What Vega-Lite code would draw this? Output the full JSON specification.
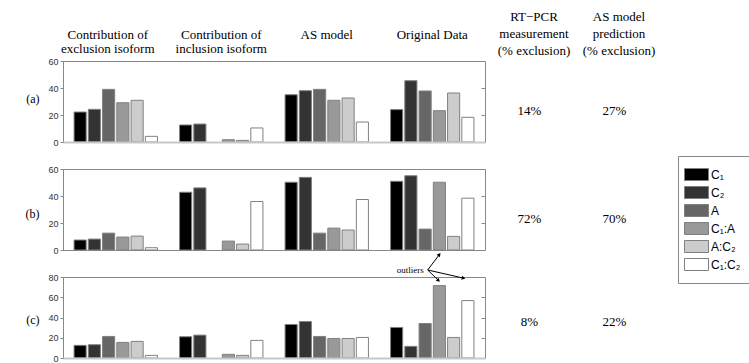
{
  "$schema": "https://vega.github.io/schema/vega-lite/v6.json",
  "padding": {"left": 24, "top": 10, "right": 0, "bottom": 0},
  "background": "white",
  "config": {
    "view": {"stroke": null},
    "axis": {"labelFont": "Liberation Sans", "labelFontSize": 9, "labelColor": "#333", "tickColor": "#888", "domainColor": "#888", "grid": false}
  },
  "datasets": {
    "bars": [
      {"row": "a", "group": "Contribution of|exclusion isoform", "series": "C₁", "value": 22.2},
      {"row": "a", "group": "Contribution of|exclusion isoform", "series": "C₂", "value": 24.2},
      {"row": "a", "group": "Contribution of|exclusion isoform", "series": "A", "value": 39},
      {"row": "a", "group": "Contribution of|exclusion isoform", "series": "C₁:A", "value": 29.1},
      {"row": "a", "group": "Contribution of|exclusion isoform", "series": "A:C₂", "value": 30.9},
      {"row": "a", "group": "Contribution of|exclusion isoform", "series": "C₁:C₂", "value": 4.2},
      {"row": "a", "group": "Contribution of|inclusion isoform", "series": "C₁", "value": 12.6},
      {"row": "a", "group": "Contribution of|inclusion isoform", "series": "C₂", "value": 13.3},
      {"row": "a", "group": "Contribution of|inclusion isoform", "series": "C₁:A", "value": 1.7},
      {"row": "a", "group": "Contribution of|inclusion isoform", "series": "A:C₂", "value": 1.2},
      {"row": "a", "group": "Contribution of|inclusion isoform", "series": "C₁:C₂", "value": 10.4},
      {"row": "a", "group": "AS model", "series": "C₁", "value": 35},
      {"row": "a", "group": "AS model", "series": "C₂", "value": 38},
      {"row": "a", "group": "AS model", "series": "A", "value": 39},
      {"row": "a", "group": "AS model", "series": "C₁:A", "value": 30.9},
      {"row": "a", "group": "AS model", "series": "A:C₂", "value": 32.6},
      {"row": "a", "group": "AS model", "series": "C₁:C₂", "value": 14.8},
      {"row": "a", "group": "Original Data", "series": "C₁", "value": 24},
      {"row": "a", "group": "Original Data", "series": "C₂", "value": 45.4},
      {"row": "a", "group": "Original Data", "series": "A", "value": 37.8},
      {"row": "a", "group": "Original Data", "series": "C₁:A", "value": 23.2},
      {"row": "a", "group": "Original Data", "series": "A:C₂", "value": 36.3},
      {"row": "a", "group": "Original Data", "series": "C₁:C₂", "value": 18.3},
      {"row": "b", "group": "Contribution of|exclusion isoform", "series": "C₁", "value": 7.4},
      {"row": "b", "group": "Contribution of|exclusion isoform", "series": "C₂", "value": 8.1},
      {"row": "b", "group": "Contribution of|exclusion isoform", "series": "A", "value": 12.5},
      {"row": "b", "group": "Contribution of|exclusion isoform", "series": "C₁:A", "value": 9.6},
      {"row": "b", "group": "Contribution of|exclusion isoform", "series": "A:C₂", "value": 10.3},
      {"row": "b", "group": "Contribution of|exclusion isoform", "series": "C₁:C₂", "value": 1.7},
      {"row": "b", "group": "Contribution of|inclusion isoform", "series": "C₁", "value": 42.8},
      {"row": "b", "group": "Contribution of|inclusion isoform", "series": "C₂", "value": 46},
      {"row": "b", "group": "Contribution of|inclusion isoform", "series": "C₁:A", "value": 6.6},
      {"row": "b", "group": "Contribution of|inclusion isoform", "series": "A:C₂", "value": 4.4},
      {"row": "b", "group": "Contribution of|inclusion isoform", "series": "C₁:C₂", "value": 35.9},
      {"row": "b", "group": "AS model", "series": "C₁", "value": 50.2},
      {"row": "b", "group": "AS model", "series": "C₂", "value": 53.8},
      {"row": "b", "group": "AS model", "series": "A", "value": 12.5},
      {"row": "b", "group": "AS model", "series": "C₁:A", "value": 16.2},
      {"row": "b", "group": "AS model", "series": "A:C₂", "value": 14.8},
      {"row": "b", "group": "AS model", "series": "C₁:C₂", "value": 37.4},
      {"row": "b", "group": "Original Data", "series": "C₁", "value": 50.9},
      {"row": "b", "group": "Original Data", "series": "C₂", "value": 55},
      {"row": "b", "group": "Original Data", "series": "A", "value": 15.5},
      {"row": "b", "group": "Original Data", "series": "C₁:A", "value": 50.2},
      {"row": "b", "group": "Original Data", "series": "A:C₂", "value": 10.1},
      {"row": "b", "group": "Original Data", "series": "C₁:C₂", "value": 38.4},
      {"row": "c", "group": "Contribution of|exclusion isoform", "series": "C₁", "value": 12.5},
      {"row": "c", "group": "Contribution of|exclusion isoform", "series": "C₂", "value": 13.1},
      {"row": "c", "group": "Contribution of|exclusion isoform", "series": "A", "value": 21.3},
      {"row": "c", "group": "Contribution of|exclusion isoform", "series": "C₁:A", "value": 15.4},
      {"row": "c", "group": "Contribution of|exclusion isoform", "series": "A:C₂", "value": 16.4},
      {"row": "c", "group": "Contribution of|exclusion isoform", "series": "C₁:C₂", "value": 2.6},
      {"row": "c", "group": "Contribution of|inclusion isoform", "series": "C₁", "value": 21},
      {"row": "c", "group": "Contribution of|inclusion isoform", "series": "C₂", "value": 22.6},
      {"row": "c", "group": "Contribution of|inclusion isoform", "series": "C₁:A", "value": 3.6},
      {"row": "c", "group": "Contribution of|inclusion isoform", "series": "A:C₂", "value": 2.6},
      {"row": "c", "group": "Contribution of|inclusion isoform", "series": "C₁:C₂", "value": 17.4},
      {"row": "c", "group": "AS model", "series": "C₁", "value": 33.1},
      {"row": "c", "group": "AS model", "series": "C₂", "value": 36},
      {"row": "c", "group": "AS model", "series": "A", "value": 21.3},
      {"row": "c", "group": "AS model", "series": "C₁:A", "value": 19.3},
      {"row": "c", "group": "AS model", "series": "A:C₂", "value": 19.3},
      {"row": "c", "group": "AS model", "series": "C₁:C₂", "value": 20.3},
      {"row": "c", "group": "Original Data", "series": "C₁", "value": 30.2},
      {"row": "c", "group": "Original Data", "series": "C₂", "value": 11.5},
      {"row": "c", "group": "Original Data", "series": "A", "value": 34.1},
      {"row": "c", "group": "Original Data", "series": "C₁:A", "value": 71.5},
      {"row": "c", "group": "Original Data", "series": "A:C₂", "value": 20.3},
      {"row": "c", "group": "Original Data", "series": "C₁:C₂", "value": 56.7}
    ],
    "pct": [
      {"row": "a", "measure": "RT−PCR|measurement|(% exclusion)", "pct": 0.14},
      {"row": "a", "measure": "AS model|prediction|(% exclusion)", "pct": 0.27},
      {"row": "b", "measure": "RT−PCR|measurement|(% exclusion)", "pct": 0.72},
      {"row": "b", "measure": "AS model|prediction|(% exclusion)", "pct": 0.70},
      {"row": "c", "measure": "RT−PCR|measurement|(% exclusion)", "pct": 0.08},
      {"row": "c", "measure": "AS model|prediction|(% exclusion)", "pct": 0.22}
    ],
    "arrows": [
      {"id": "a1", "x1": 3.457, "y1": 86.9, "x2": 3.564, "y2": 101.7},
      {"id": "a2", "x1": 3.457, "y1": 86.9, "x2": 3.555, "y2": 77},
      {"id": "a3", "x1": 3.457, "y1": 86.9, "x2": 3.791, "y2": 79}
    ],
    "note": [{"x": 3.42, "y": 86.9, "label": "outliers"}]
  },
  "columns": 2,
  "spacing": {"row": 27, "column": 6},
  "bounds": "flush",
  "concat": [
    {
      "view": {"stroke": "#888"},
      "width": 422, "height": 81,
      "data": {"name": "bars"},
      "transform": [{"filter": "datum.row === 'a'"}],
      "layer": [
        {
          "mark": {"type": "bar", "stroke": "#808080", "strokeWidth": 1},
          "encoding": {
            "x": {"field": "group", "type": "nominal", "sort": null,
              "scale": {"domain": ["Contribution of|exclusion isoform", "Contribution of|inclusion isoform", "AS model", "Original Data"], "paddingInner": 0.21, "paddingOuter": 0.105},
              "axis": {"orient": "bottom", "labels": false, "ticks": false, "title": null, "domainColor": "#c8c8c8", "domainWidth": 2, "zindex": 1}},
            "xOffset": {"field": "series", "type": "nominal", "sort": null, "scale": {"domain": ["C₁", "C₂", "A", "C₁:A", "A:C₂", "C₁:C₂"], "paddingInner": 0.15, "paddingOuter": 0}},
            "y": {"field": "value", "type": "quantitative", "scale": {"domain": [0, 60], "nice": false},
              "axis": {"orient": "left", "values": [0, 20, 40, 60], "tickSize": 3, "labelPadding": 2, "title": "(a)", "titleAngle": 0, "titleAlign": "right", "titleBaseline": "middle", "titlePadding": 9, "titleFont": "Liberation Serif", "titleFontSize": 12, "titleFontWeight": "normal", "titleColor": "black", "titleY": 37}},
            "fill": {"field": "series", "type": "nominal", "sort": null,
              "scale": {"domain": ["C₁", "C₂", "A", "C₁:A", "A:C₂", "C₁:C₂"], "range": ["#000000", "#333333", "#666666", "#999999", "#cccccc", "#ffffff"]},
              "legend": {"orient": "none", "legendX": 615, "legendY": 95, "title": null, "symbolType": "M-1.5,-0.75H1.5V0.75H-1.5Z", "symbolSize": 256, "symbolStrokeColor": "#777", "symbolStrokeWidth": 1, "symbolOpacity": 1, "labelFont": "Liberation Sans", "labelFontSize": 12, "labelColor": "black", "labelOffset": 6, "rowPadding": 1, "padding": 10, "strokeColor": "#888", "fillColor": "white"}}
          }
        },
        {
          "mark": {"type": "bar", "opacity": 0},
          "encoding": {
            "x": {"field": "group", "type": "nominal", "sort": null,
              "axis": {"orient": "top", "labelExpr": "split(datum.label, '|')", "domain": false, "ticks": false, "tickSize": 0, "labelFont": "Liberation Serif", "labelFontSize": 13, "labelColor": "black", "labelBaseline": "middle", "labelPadding": 27, "labelLineHeight": 14, "labelAngle": 0, "labelOverlap": false, "labelLimit": 300, "title": null,
                "labelOffset": {"condition": {"test": "indexof(datum.value, 'exclusion') >= 0", "value": -8}, "value": 0}}},
            "xOffset": {"field": "series", "type": "nominal", "sort": null},
            "y": {"field": "value", "type": "quantitative", "axis": {"orient": "right", "labels": false, "domain": false, "tickSize": -4, "values": [20, 40], "title": null}}
          }
        }
      ]
    },
    {
      "width": 170, "height": 81,
      "data": {"name": "pct"},
      "transform": [{"filter": "datum.row === 'a'"}],
      "mark": {"type": "text", "font": "Liberation Serif", "fontSize": 13, "dy": 9, "dx": -4, "color": "black"},
      "encoding": {
        "x": {"field": "measure", "type": "nominal", "sort": null,
          "scale": {"domain": ["RT−PCR|measurement|(% exclusion)", "AS model|prediction|(% exclusion)"], "padding": 0.5},
          "axis": {"orient": "top", "labelExpr": "split(datum.label, '|')", "domain": false, "ticks": false, "tickSize": 0, "labelFont": "Liberation Serif", "labelFontSize": 13, "labelColor": "black", "labelBaseline": "middle", "labelPadding": 45, "labelLineHeight": 17, "labelAngle": 0, "labelOverlap": false, "labelLimit": 300, "title": null}},
        "text": {"field": "pct", "type": "quantitative", "format": ".0%"}
      }
    },
    {
      "view": {"stroke": "#888"},
      "width": 422, "height": 81,
      "data": {"name": "bars"},
      "transform": [{"filter": "datum.row === 'b'"}],
      "layer": [
        {
          "mark": {"type": "bar", "stroke": "#808080", "strokeWidth": 1},
          "encoding": {
            "x": {"field": "group", "type": "nominal", "sort": null,
              "scale": {"domain": ["Contribution of|exclusion isoform", "Contribution of|inclusion isoform", "AS model", "Original Data"], "paddingInner": 0.21, "paddingOuter": 0.105},
              "axis": {"orient": "bottom", "labels": false, "ticks": false, "title": null, "domainColor": "#c8c8c8", "domainWidth": 2, "zindex": 1}},
            "xOffset": {"field": "series", "type": "nominal", "sort": null, "scale": {"domain": ["C₁", "C₂", "A", "C₁:A", "A:C₂", "C₁:C₂"], "paddingInner": 0.15, "paddingOuter": 0}},
            "y": {"field": "value", "type": "quantitative", "scale": {"domain": [0, 60], "nice": false},
              "axis": {"orient": "left", "values": [0, 20, 40, 60], "tickSize": 3, "labelPadding": 2, "title": "(b)", "titleAngle": 0, "titleAlign": "right", "titleBaseline": "middle", "titlePadding": 9, "titleFont": "Liberation Serif", "titleFontSize": 12, "titleFontWeight": "normal", "titleColor": "black", "titleY": 44}},
            "fill": {"field": "series", "type": "nominal", "sort": null}
          }
        },
        {
          "mark": {"type": "bar", "opacity": 0},
          "encoding": {
            "x": {"field": "group", "type": "nominal", "sort": null, "axis": null},
            "xOffset": {"field": "series", "type": "nominal", "sort": null},
            "y": {"field": "value", "type": "quantitative", "axis": {"orient": "right", "labels": false, "domain": false, "tickSize": -4, "values": [20, 40], "title": null}}
          }
        }
      ]
    },
    {
      "width": 170, "height": 81,
      "data": {"name": "pct"},
      "transform": [{"filter": "datum.row === 'b'"}],
      "mark": {"type": "text", "font": "Liberation Serif", "fontSize": 13, "dy": 9, "dx": -4, "color": "black"},
      "encoding": {
        "x": {"field": "measure", "type": "nominal", "sort": null,
          "scale": {"domain": ["RT−PCR|measurement|(% exclusion)", "AS model|prediction|(% exclusion)"], "padding": 0.5},
          "axis": null},
        "text": {"field": "pct", "type": "quantitative", "format": ".0%"}
      }
    },
    {
      "view": {"stroke": "#888"},
      "width": 422, "height": 81,
      "resolve": {"scale": {"x": "independent"}},
      "layer": [
        {
          "data": {"name": "bars"},
          "transform": [{"filter": "datum.row === 'c'"}],
          "mark": {"type": "bar", "stroke": "#808080", "strokeWidth": 1},
          "encoding": {
            "x": {"field": "group", "type": "nominal", "sort": null,
              "scale": {"domain": ["Contribution of|exclusion isoform", "Contribution of|inclusion isoform", "AS model", "Original Data"], "paddingInner": 0.21, "paddingOuter": 0.105},
              "axis": {"orient": "bottom", "labels": false, "ticks": false, "title": null, "domainColor": "#c8c8c8", "domainWidth": 2, "zindex": 1}},
            "xOffset": {"field": "series", "type": "nominal", "sort": null, "scale": {"domain": ["C₁", "C₂", "A", "C₁:A", "A:C₂", "C₁:C₂"], "paddingInner": 0.15, "paddingOuter": 0}},
            "y": {"field": "value", "type": "quantitative", "scale": {"domain": [0, 80], "nice": false},
              "axis": {"orient": "left", "values": [0, 20, 40, 60, 80], "tickSize": 3, "labelPadding": 2, "title": "(c)", "titleAngle": 0, "titleAlign": "right", "titleBaseline": "middle", "titlePadding": 9, "titleFont": "Liberation Serif", "titleFontSize": 12, "titleFontWeight": "normal", "titleColor": "black", "titleY": 42}},
            "fill": {"field": "series", "type": "nominal", "sort": null}
          }
        },
        {
          "data": {"name": "bars"},
          "transform": [{"filter": "datum.row === 'c'"}],
          "mark": {"type": "bar", "opacity": 0},
          "encoding": {
            "x": {"field": "group", "type": "nominal", "sort": null,
              "scale": {"domain": ["Contribution of|exclusion isoform", "Contribution of|inclusion isoform", "AS model", "Original Data"], "paddingInner": 0.21, "paddingOuter": 0.105},
              "axis": null},
            "xOffset": {"field": "series", "type": "nominal", "sort": null},
            "y": {"field": "value", "type": "quantitative", "axis": {"orient": "right", "labels": false, "domain": false, "tickSize": -4, "values": [20, 40, 60], "title": null}}
          }
        },
        {
          "data": {"name": "arrows"},
          "mark": {"type": "rule", "color": "black", "strokeWidth": 1},
          "encoding": {
            "x": {"field": "x1", "type": "quantitative", "scale": {"domain": [0, 4], "nice": false, "zero": false}, "axis": null},
            "x2": {"field": "x2"},
            "y": {"field": "y1", "type": "quantitative", "axis": null},
            "y2": {"field": "y2"}
          }
        },
        {
          "data": {"name": "note"},
          "mark": {"type": "text", "font": "Liberation Serif", "fontSize": 9, "align": "right", "baseline": "middle", "color": "black"},
          "encoding": {
            "x": {"field": "x", "type": "quantitative", "scale": {"domain": [0, 4], "nice": false, "zero": false}, "axis": null},
            "y": {"field": "y", "type": "quantitative", "axis": null},
            "text": {"field": "label"}
          }
        },
        {
          "data": {"name": "arrows"},
          "transform": [{"filter": "datum.id === 'a1'"}],
          "mark": {"type": "point", "shape": "triangle", "filled": true, "size": 18, "angle": 36, "color": "black", "opacity": 1},
          "encoding": {
            "x": {"field": "x2", "type": "quantitative", "scale": {"domain": [0, 4], "nice": false, "zero": false}, "axis": null},
            "y": {"field": "y2", "type": "quantitative", "axis": null}
          }
        },
        {
          "data": {"name": "arrows"},
          "transform": [{"filter": "datum.id === 'a2'"}],
          "mark": {"type": "point", "shape": "triangle", "filled": true, "size": 18, "angle": 132, "color": "black", "opacity": 1},
          "encoding": {
            "x": {"field": "x2", "type": "quantitative", "scale": {"domain": [0, 4], "nice": false, "zero": false}, "axis": null},
            "y": {"field": "y2", "type": "quantitative", "axis": null}
          }
        },
        {
          "data": {"name": "arrows"},
          "transform": [{"filter": "datum.id === 'a3'"}],
          "mark": {"type": "point", "shape": "triangle", "filled": true, "size": 18, "angle": 102, "color": "black", "opacity": 1},
          "encoding": {
            "x": {"field": "x2", "type": "quantitative", "scale": {"domain": [0, 4], "nice": false, "zero": false}, "axis": null},
            "y": {"field": "y2", "type": "quantitative", "axis": null}
          }
        }
      ]
    },
    {
      "width": 170, "height": 81,
      "data": {"name": "pct"},
      "transform": [{"filter": "datum.row === 'c'"}],
      "mark": {"type": "text", "font": "Liberation Serif", "fontSize": 13, "dy": 4, "dx": -4, "color": "black"},
      "encoding": {
        "x": {"field": "measure", "type": "nominal", "sort": null,
          "scale": {"domain": ["RT−PCR|measurement|(% exclusion)", "AS model|prediction|(% exclusion)"], "padding": 0.5},
          "axis": null},
        "text": {"field": "pct", "type": "quantitative", "format": ".0%"}
      }
    }
  ]
}
